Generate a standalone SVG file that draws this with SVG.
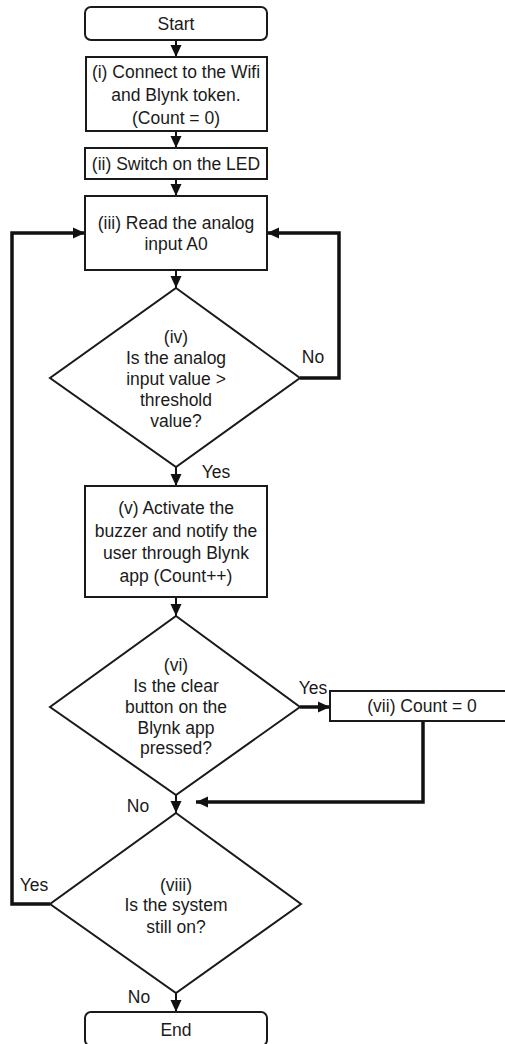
<svg xmlns="http://www.w3.org/2000/svg" width="505" height="1044" viewBox="0 0 505 1044">
<style>
.box{fill:#fff;stroke:#1a1a1a;stroke-width:2}
.t{font-family:"Liberation Sans",Arial,sans-serif;font-size:17.5px;fill:#1a1a1a;text-anchor:middle}
.c{fill:none;stroke:#111;stroke-width:2;marker-end:url(#ah)}
.thick{fill:none;stroke:#111;stroke-width:3.5;marker-end:url(#ah)}
</style>
<defs>
<marker id="ah" markerUnits="userSpaceOnUse" markerWidth="12" markerHeight="12" viewBox="0 0 12 12" refX="12" refY="6" orient="auto">
<path d="M0,0.5 L12,6 L0,11.5 z" fill="#111"/>
</marker>
</defs>
<rect width="505" height="1044" fill="#fff"/>
<g id="connectors">
<path class="c" d="M176,40 V57"/>
<path class="c" d="M176,131 V148"/>
<path class="c" d="M176,179 V196"/>
<path class="c" d="M176,270 V288"/>
<path class="thick" d="M300,378 H339 V233 H267"/>
<path class="c" d="M176,467 V486"/>
<path class="c" d="M176,597 V616"/>
<path class="thick" d="M300,707 H330"/>
<path class="thick" d="M423,721 V802 H196"/>
<path class="c" d="M176,795 V813"/>
<path class="thick" d="M50,904 H12 V233 H85"/>
<path class="c" d="M176,993 V1012"/>
<text class="t" x="313" y="363">No</text>
<text class="t" x="216" y="478">Yes</text>
<text class="t" x="313" y="694">Yes</text>
<text class="t" x="138" y="812">No</text>
<text class="t" x="34" y="891">Yes</text>
<text class="t" x="139" y="1003">No</text>
</g>
<g id="start">
<rect class="box" x="85" y="7" width="182" height="33" rx="6"/>
<text class="t" x="176" y="30">Start</text>
</g>
<g id="step1">
<rect class="box" x="86" y="57" width="181" height="74"/>
<text class="t" x="176" y="78">(i) Connect to the Wifi</text>
<text class="t" x="176" y="101">and Blynk token.</text>
<text class="t" x="176" y="124">(Count = 0)</text>
</g>
<g id="step2">
<rect class="box" x="85" y="148" width="182" height="31"/>
<text class="t" x="176" y="170">(ii) Switch on the LED</text>
</g>
<g id="step3">
<rect class="box" x="85" y="196" width="182" height="74"/>
<text class="t" x="176" y="229">(iii) Read the analog</text>
<text class="t" x="176" y="250">input A0</text>
</g>
<g id="step4">
<polygon class="box" points="176,288 300,378 176,467 50,378"/>
<text class="t" x="176" y="343">(iv)</text>
<text class="t" x="176" y="364">Is the analog</text>
<text class="t" x="176" y="385">input value &gt;</text>
<text class="t" x="176" y="406">threshold</text>
<text class="t" x="176" y="427">value?</text>
</g>
<g id="step5">
<rect class="box" x="85" y="486" width="182" height="111"/>
<text class="t" x="176" y="514">(v) Activate the</text>
<text class="t" x="176" y="537">buzzer and notify the</text>
<text class="t" x="176" y="559">user through Blynk</text>
<text class="t" x="176" y="582">app (Count++)</text>
</g>
<g id="step6">
<polygon class="box" points="176,616 300,707 176,795 50,707"/>
<text class="t" x="176" y="671">(vi)</text>
<text class="t" x="176" y="692">Is the clear</text>
<text class="t" x="176" y="713">button on the</text>
<text class="t" x="176" y="734">Blynk app</text>
<text class="t" x="176" y="754">pressed?</text>
</g>
<g id="step7">
<rect class="box" x="330" y="691" width="180" height="30"/>
<text class="t" x="422" y="712">(vii) Count = 0</text>
</g>
<g id="step8">
<polygon class="box" points="176,813 301,904 176,993 50,904"/>
<text class="t" x="176" y="891">(viii)</text>
<text class="t" x="176" y="911">Is the system</text>
<text class="t" x="176" y="933">still on?</text>
</g>
<g id="end">
<rect class="box" x="85" y="1012" width="182" height="34" rx="6"/>
<text class="t" x="176" y="1036">End</text>
</g>
</svg>
